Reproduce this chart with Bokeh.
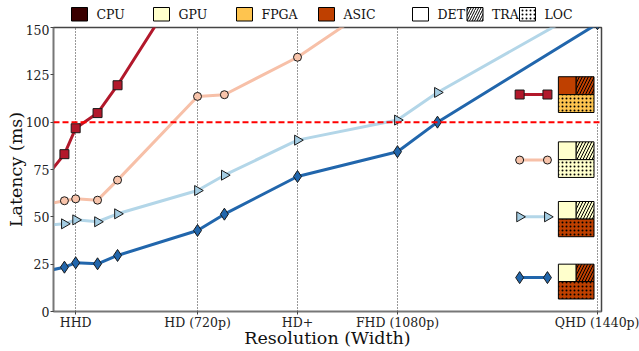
import numpy as np
from bokeh.plotting import figure
from bokeh.layouts import column
from bokeh.models import FixedTicker, Span, Range1d
from bokeh.core.properties import value
from bokeh.embed import file_html
from bokeh.resources import INLINE

# ---------------- data ----------------
res_cpu = [800, 854, 890, 960, 1024, 1280]
lat_cpu = [72.0, 83.1, 96.8, 104.8, 119.5, 186.0]

res_gpu = [800, 854, 890, 960, 1024, 1280, 1366, 1600, 1920]
lat_gpu = [56.8, 58.5, 59.5, 58.8, 69.4, 113.6, 114.5, 134.3, 170.0]

res_mix = [800, 854, 890, 960, 1024, 1280, 1366, 1600, 1920, 2048, 2560]
lat_mix1 = [45.6, 46.3, 48.4, 47.4, 51.6, 63.9, 72.0, 90.5, 101.1, 115.7, 163.4]
lat_mix2 = [21.5, 23.4, 25.7, 25.2, 29.6, 42.8, 51.4, 71.3, 84.4, 100.0, 152.0]

xtick_values = [890, 1280, 1600, 1920, 2560]
xtick_labels = ["HHD", "HD (720p)", "HD+", "FHD (1080p)", "QHD (1440p)"]
ytick_values = [0, 25, 50, 75, 100, 125, 150]
deadline = 100

hw_names = ["CPU", "GPU", "FPGA", "ASIC"]
hw_colors = ["#3a0000", "#ffffcc", "#fec44f", "#bf4000"]
task_names = ["DET", "TRA", "LOC"]
task_hatch = [" ", "/", "."]

# hardware used for (DET, TRA, LOC) in each configuration
cfg_hw = [["ASIC", "ASIC", "FPGA"],
          ["GPU", "GPU", "GPU"],
          ["GPU", "GPU", "ASIC"],
          ["GPU", "ASIC", "ASIC"]]

# ---------------- styles / layout ----------------
FONT = "DejaVu Serif"
series = [
    (res_cpu, lat_cpu, "#b2182b", "#b2182b", "square", 9, 0.0),
    (res_gpu, lat_gpu, "#f7c0a8", "#f8c4ab", "circle", 8, 0.0),
    (res_mix, lat_mix1, "#b3d6e8", "#a4cde3", "triangle", 10, -np.pi / 2),
    (res_mix, lat_mix2, "#2166ac", "#2166ac", "diamond", 12, 0.0),
]

# config-glyph placement (data units, decoration only)
sample_x = (2311, 2400)
box_x = (2435, 2492, 2549)
sample_y = [114.6, 80.0, 50.0, 17.9]
box_top = [124.0, 89.6, 58.1, 25.0]
box_bot = [105.1, 70.8, 39.5, 6.6]

# borders of the chart frame (pixels)
B_LEFT, B_RIGHT = 53, 38
W, H, TOP_H = 639, 351, 24

# top legend placement (page pixels)
hw_box_left = [71, 153, 236, 318]
task_box_left = [412, 466.5, 519]
BOX_W, BOX_Y0, BOX_Y1, TEXT_DX, TEXT_Y = 16, 7, 20.5, 25, 14

hw_color = dict(zip(hw_names, hw_colors))

# ---------------- top legend strip ----------------
top = figure(width=W, height=TOP_H, x_range=Range1d(B_LEFT, W - B_RIGHT),
             y_range=Range1d(TOP_H, 0),
             output_backend="svg", toolbar_location=None, x_axis_type=None, y_axis_type=None,
             min_border_left=B_LEFT, min_border_right=B_RIGHT, min_border_top=0,
             min_border_bottom=0)
top.outline_line_color = None
top.grid.visible = False
top.background_fill_color = "white"
top.border_fill_color = "white"

top.quad(left=hw_box_left, right=[x + BOX_W for x in hw_box_left], top=BOX_Y0, bottom=BOX_Y1,
         fill_color=hw_colors, line_color="black", line_width=1)
top.text(x=[x + TEXT_DX for x in hw_box_left], y=TEXT_Y, text=hw_names,
         text_font=value(FONT), text_font_size=value("12.5px"), text_baseline="middle",
         text_align="left", text_color="#111111")
for x, h in zip(task_box_left, task_hatch):
    top.quad(left=[x], right=[x + BOX_W], top=BOX_Y0, bottom=BOX_Y1, fill_color="white",
             line_color="black", line_width=1, hatch_pattern=h, hatch_color="black",
             hatch_scale=4 if h == "." else 5, hatch_weight=1)
top.text(x=[x + TEXT_DX for x in task_box_left], y=TEXT_Y, text=task_names,
         text_font=value(FONT), text_font_size=value("12.5px"), text_baseline="middle",
         text_align="left", text_color="#111111")

# ---------------- main chart ----------------
p = figure(width=W, height=H - TOP_H, x_range=Range1d(819, 2573), y_range=Range1d(0, 150),
           output_backend="svg", toolbar_location=None,
           min_border_left=B_LEFT, min_border_right=B_RIGHT, min_border_top=3,
           min_border_bottom=40)

p.background_fill_color = "white"
p.border_fill_color = "white"
p.outline_line_color = "#444444"
p.outline_line_width = 1.5

p.xaxis.ticker = FixedTicker(ticks=xtick_values)
p.xaxis.major_label_overrides = {v: l for v, l in zip(xtick_values, xtick_labels)}
p.yaxis.ticker = FixedTicker(ticks=ytick_values)
p.xaxis.axis_label = "Resolution (Width)"
p.yaxis.axis_label = "Latency (ms)"
for ax in (p.xaxis[0], p.yaxis[0]):
    ax.axis_line_color = "#777777"
    ax.axis_line_width = 1.5
    ax.major_tick_line_color = "#444444"
    ax.major_tick_in = 0
    ax.major_tick_out = 3
    ax.minor_tick_line_color = None
    ax.major_label_text_font = FONT
    ax.major_label_text_font_size = "12.5px"
    ax.major_label_text_color = "#222222"
    ax.axis_label_text_font = FONT
    ax.axis_label_text_font_size = "17.5px"
    ax.axis_label_text_font_style = "normal"
    ax.axis_label_text_color = "#111111"
p.xaxis.major_label_standoff = 0
p.yaxis.major_label_standoff = 1
p.xaxis.axis_label_standoff = -5
p.yaxis.axis_label_standoff = -3

p.xgrid.ticker = FixedTicker(ticks=xtick_values)
p.xgrid.grid_line_color = "#333333"
p.xgrid.grid_line_dash = "1 2"
p.xgrid.grid_line_width = 1
p.ygrid.visible = False

p.add_layout(Span(location=deadline, dimension="width", line_color="red",
                  line_dash="6 3", line_width=2))

for xs, ys, lc, fc, mk, sz, ang in series:
    p.line(xs, ys, line_color=lc, line_width=3)
    p.scatter(xs[1:], ys[1:], marker=mk, size=sz, angle=ang, fill_color=fc,
              line_color="#1a1a1a", line_width=1)

# configuration glyphs at right
for (xs, ys, lc, fc, mk, sz, ang), yc, bt, bb, hw in zip(series, sample_y, box_top, box_bot, cfg_hw):
    p.line(list(sample_x), [yc, yc], line_color=lc, line_width=3)
    p.scatter(list(sample_x), [yc, yc], marker=mk, size=sz, angle=ang, fill_color=fc,
              line_color="#1a1a1a", line_width=1)
    mid = (bt + bb) / 2
    p.quad(left=[box_x[0]], right=[box_x[1]], top=[bt], bottom=[mid],
           fill_color=hw_color[hw[0]], line_color="black", line_width=1)
    p.quad(left=[box_x[1]], right=[box_x[2]], top=[bt], bottom=[mid],
           fill_color=hw_color[hw[1]], line_color="black", line_width=1,
           hatch_pattern="/", hatch_color="black", hatch_scale=6, hatch_weight=1)
    p.quad(left=[box_x[0]], right=[box_x[2]], top=[mid], bottom=[bb],
           fill_color=hw_color[hw[2]], line_color="black", line_width=1,
           hatch_pattern=".", hatch_color="black", hatch_scale=4, hatch_weight=1)

layout = column(top, p, spacing=0)
open("out.html", "w").write(file_html(layout, INLINE))
